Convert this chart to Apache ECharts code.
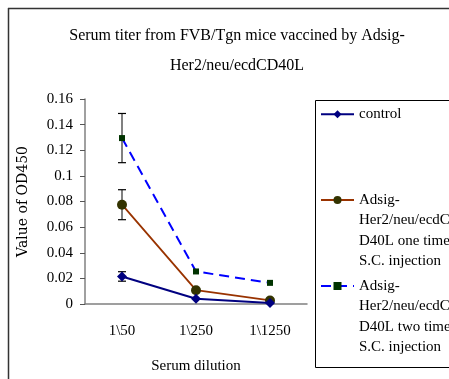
<!DOCTYPE html>
<html>
<head>
<meta charset="utf-8">
<script src="https://cdn.jsdelivr.net/npm/echarts@6/dist/echarts.min.js"></script>
<style>
  html, body { margin: 0; padding: 0; background: #fff; }
  #main { width: 449px; height: 379px; }
</style>
</head>
<body>
<div id="main"></div>
<script>
const categories = ['1\\50', '1\\250', '1\\1250']
const yTicks = [0, 0.02, 0.04, 0.06, 0.08, 0.1, 0.12, 0.14, 0.16]

const controlData = [0.0215, 0.0041, 0.0008]
const controlErr = [0.0037, 0, 0]
const oneTimeData = [0.0775, 0.0108, 0.0028]
const oneTimeErr = [0.0117, 0, 0]
const twoTimeData = [0.1295, 0.0254, 0.0165]
const twoTimeErr = [0.0192, 0, 0]

const names = ['control', 'one', 'two']
const legendText = {
  control: 'control',
  one: '\n\n\nAdsig-\nHer2/neu/ecdC\nD40L one time\nS.C. injection',
  two: '\n\n\nAdsig-\nHer2/neu/ecdC\nD40L two time\nS.C. injection',
}

const font = '"Liberation Serif", "DejaVu Serif", serif'
const chart = echarts.init(document.getElementById('main'))

// error bars: gray stem + black caps
function errSeries(vals, errs) {
  return {
    type: 'custom',
    z: 1,
    silent: true,
    data: vals.map((v, i) => [i, v - errs[i], v + errs[i]]),
    renderItem(params, api) {
      if (api.value(2) - api.value(1) < 1e-6) return
      const lo = api.coord([api.value(0), api.value(1)])
      const hi = api.coord([api.value(0), api.value(2)])
      const w = 4
      return {
        type: 'group',
        children: [
          { type: 'line', shape: { x1: lo[0], y1: lo[1], x2: hi[0], y2: hi[1] }, style: { stroke: '#808080', lineWidth: 2 } },
          { type: 'line', shape: { x1: lo[0] - w, y1: lo[1], x2: lo[0] + w, y2: lo[1] }, style: { stroke: '#000', lineWidth: 1.2 } },
          { type: 'line', shape: { x1: hi[0] - w, y1: hi[1], x2: hi[0] + w, y2: hi[1] }, style: { stroke: '#000', lineWidth: 1.2 } },
        ],
      }
    },
  }
}

function legendAt(name, top) {
  return {
    data: [name],
    left: 320,
    top: top,
    padding: 0,
    itemWidth: 33,
    itemHeight: 10,
    formatter: (n) => legendText[n],
    textStyle: { fontFamily: font, fontSize: 15, color: '#000', lineHeight: 20.5 },
  }
}

const option = {
  animation: false,
  backgroundColor: '#fff',
  title: {
    text: 'Serum titer from FVB/Tgn mice vaccined by Adsig-\nHer2/neu/ecdCD40L',
    left: 232,
    textAlign: 'center',
    top: 16,
    textStyle: { fontFamily: font, fontSize: 16, fontWeight: 'normal', color: '#000', lineHeight: 30 },
  },
  legend: [
    legendAt('control', 104),
    legendAt('one', 200 - 71.75),
    legendAt('two', 286 - 71.75),
  ],
  grid: { left: 85, right: 142, top: 99, bottom: 74 },
  xAxis: {
    type: 'category',
    data: categories,
    boundaryGap: true,
    name: 'Serum dilution',
    nameLocation: 'middle',
    nameGap: 55,
    nameTextStyle: { fontFamily: font, fontSize: 15, color: '#000' },
    axisLine: { lineStyle: { color: '#808080', width: 1.5 } },
    axisTick: { lineStyle: { color: '#555' }, length: 5 },
    axisLabel: { fontFamily: font, fontSize: 15, color: '#000', margin: 20 },
  },
  yAxis: {
    type: 'value',
    min: 0,
    max: 0.16,
    interval: 0.02,
    name: 'Value of OD450',
    nameLocation: 'middle',
    nameGap: 55,
    nameTextStyle: { fontFamily: '"DejaVu Serif", serif', fontSize: 14, color: '#000' },
    axisLine: { show: true, lineStyle: { color: '#808080', width: 1.5 } },
    axisTick: { show: true, lineStyle: { color: '#555' }, length: 5 },
    splitLine: { show: false },
    axisLabel: {
      fontFamily: font, fontSize: 15, color: '#000', margin: 12,
      formatter: (v) => yTicks.find((t) => Math.abs(t - v) < 1e-9) + '',
    },
  },
  graphic: [
    { type: 'line', shape: { x1: 8.5, y1: 8, x2: 8.5, y2: 379 }, style: { stroke: '#333', lineWidth: 1.5 }, silent: true },
    { type: 'line', shape: { x1: 8, y1: 8.5, x2: 449, y2: 8.5 }, style: { stroke: '#333', lineWidth: 1.5 }, silent: true },
    { type: 'rect', shape: { x: 315.5, y: 100.5, width: 200, height: 267 }, style: { fill: 'none', stroke: '#000', lineWidth: 1 }, silent: true, z: -1 },
  ],
  series: [
    errSeries(controlData, controlErr),
    errSeries(oneTimeData, oneTimeErr),
    errSeries(twoTimeData, twoTimeErr),
    {
      name: 'control',
      type: 'line',
      data: controlData,
      symbol: 'diamond',
      symbolSize: 10,
      itemStyle: { color: '#000080' },
      lineStyle: { color: '#000080', width: 2 },
      z: 4,
    },
    {
      name: 'one',
      type: 'line',
      data: oneTimeData,
      symbol: 'circle',
      symbolSize: 10,
      itemStyle: { color: '#333300' },
      lineStyle: { color: '#993300', width: 1.8 },
      z: 3,
    },
    {
      name: 'two',
      type: 'line',
      data: twoTimeData,
      symbol: 'rect',
      symbolSize: 6,
      itemStyle: { color: '#003300' },
      lineStyle: { color: '#0000ff', width: 2, type: [10, 6] },
      z: 3,
    },
  ],
}

chart.setOption(option)
</script>
</body>
</html>
